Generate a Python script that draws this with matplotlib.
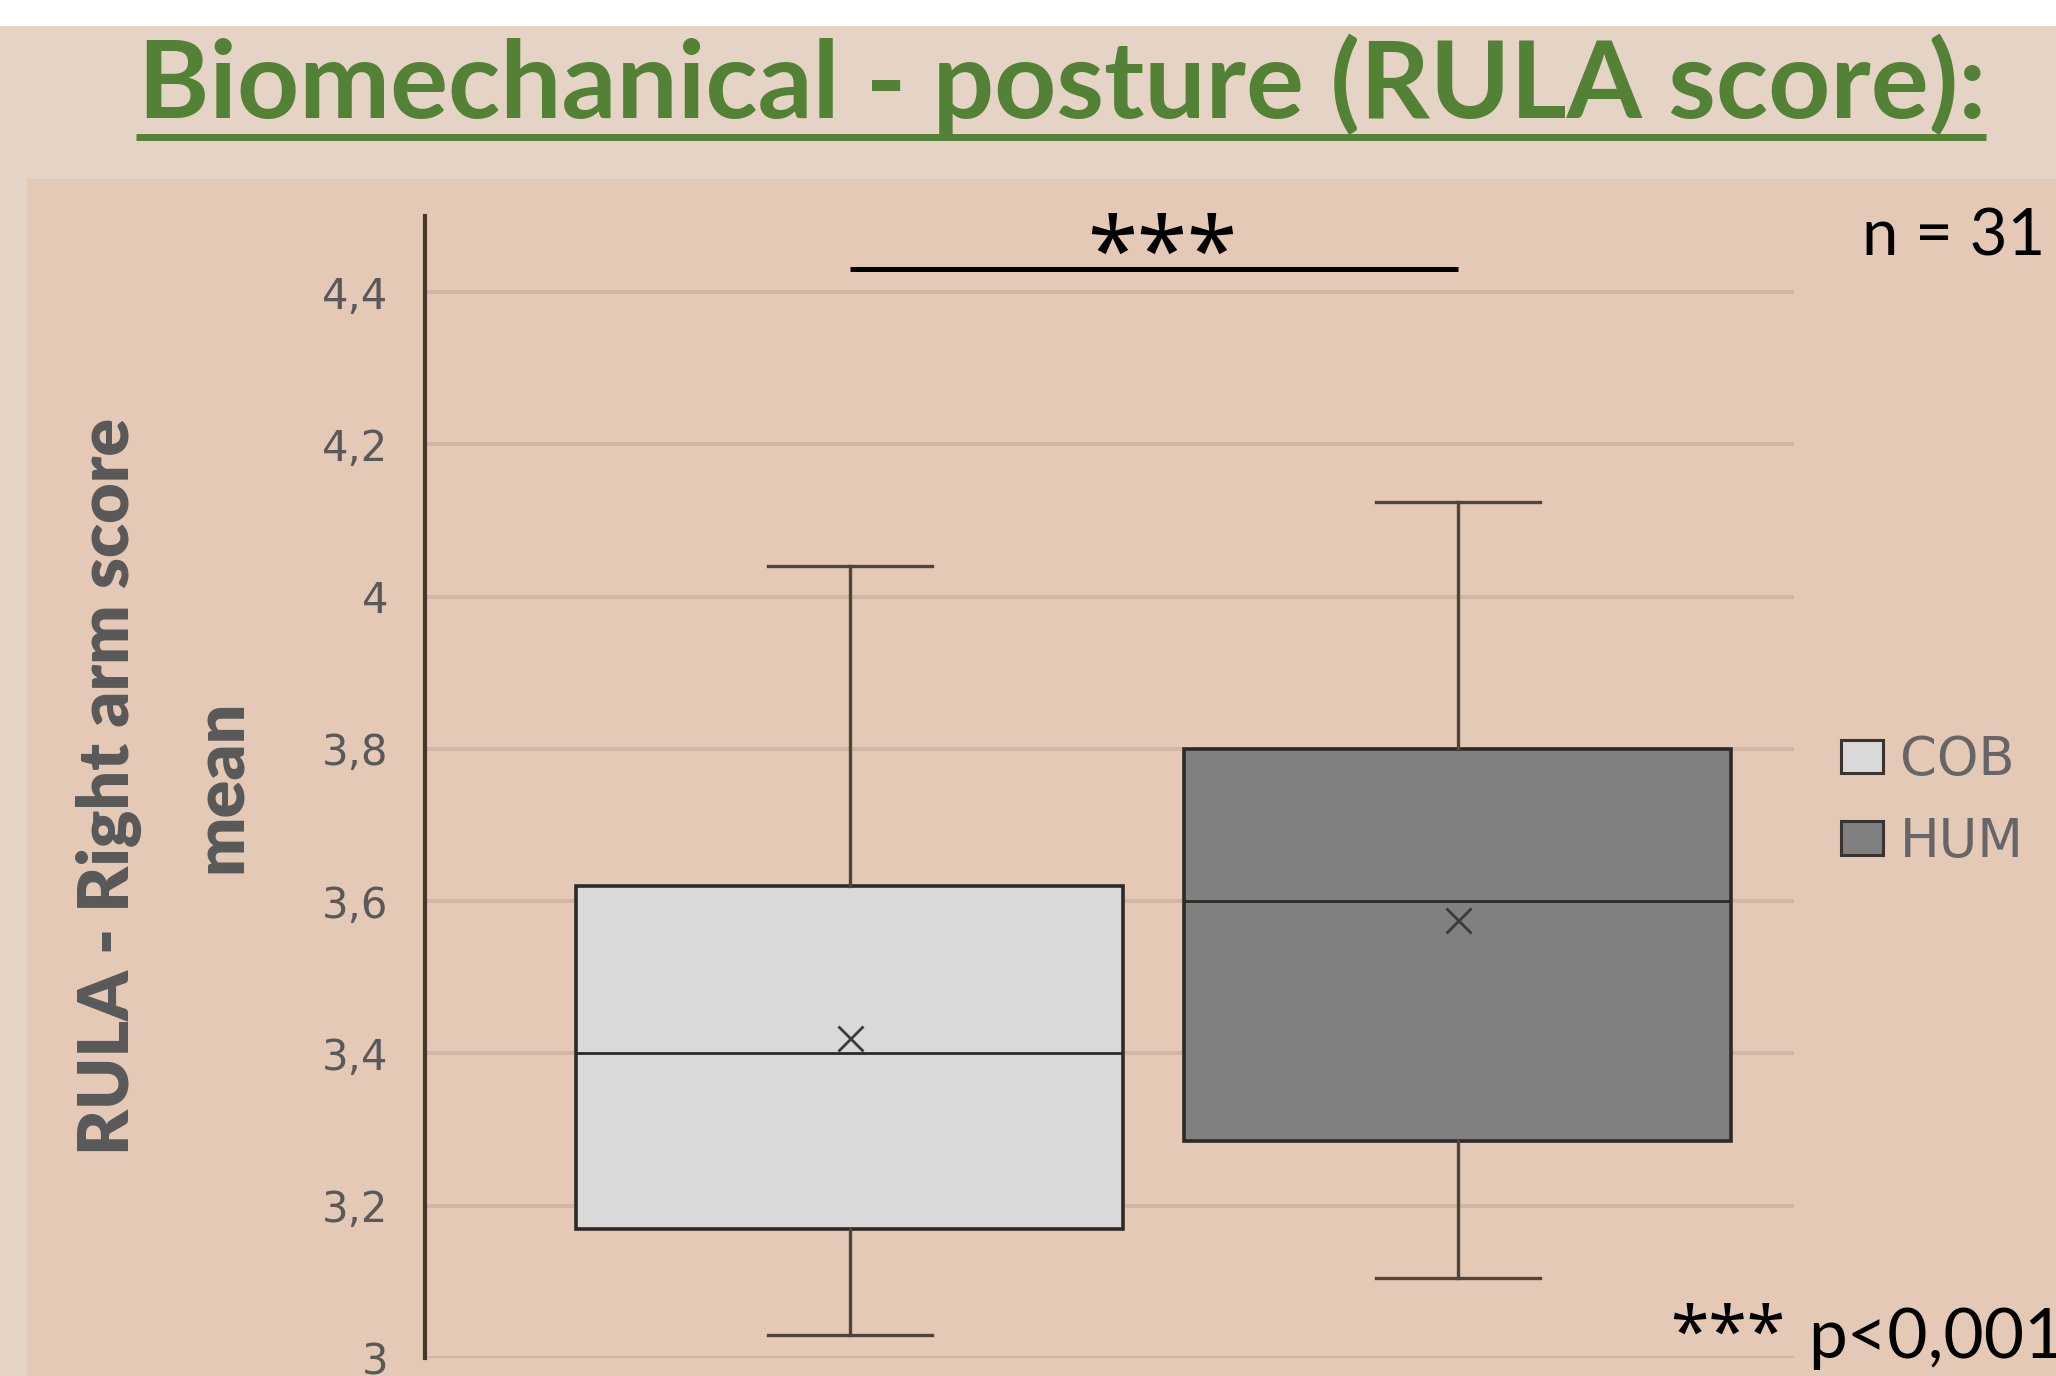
import matplotlib
matplotlib.use('Agg')
import matplotlib.pyplot as plt
from matplotlib.patches import Patch, Rectangle
from matplotlib.lines import Line2D

W, H = 2056, 1376
DPI = 100

# ---- data ----
categories = ['COB', 'HUM']
q1 = [3.17, 3.285]
medians = [3.40, 3.60]
q3 = [3.62, 3.80]
whisker_low = [3.03, 3.105]
whisker_high = [4.04, 4.125]
means = [3.42, 3.575]
box_colors = ['#D9D9D9', '#808080']

y_ticks = [3.0, 3.2, 3.4, 3.6, 3.8, 4.0, 4.2, 4.4]
y_tick_labels = ['3', '3,2', '3,4', '3,6', '3,8', '4', '4,2', '4,4']

title = 'Biomechanical - posture (RULA score):'
y_label = 'RULA - Right arm score\nmean'
n_text = 'n = 31'
sig_text = '***'
p_stars = '***'
p_text = 'p<0,001'
sig_y = 4.43

GREEN = '#538135'
GRAY_TXT = '#595959'

fig = plt.figure(figsize=(W / DPI, H / DPI), dpi=DPI)
fig.patch.set_facecolor('white')


def fx(px):
    return px / W


def fy(py):
    return 1 - py / H


# background panels
fig.add_artist(Rectangle((0, 0), 1, fy(26), transform=fig.transFigure,
                         facecolor='#E5D4C6', edgecolor='none', zorder=-10))
fig.add_artist(Rectangle((fx(27), 0), 1 - fx(27), fy(179), transform=fig.transFigure,
                         facecolor='#E5C9B7', edgecolor='none', zorder=-9))

# ---- axes ----
ax = fig.add_axes([fx(425), fy(1358), fx(1794) - fx(425), fy(216) - fy(1358)])
ax.set_facecolor('none')

stats = []
for c, a, m, b, lo, hi, mu in zip(categories, q1, medians, q3, whisker_low, whisker_high, means):
    stats.append(dict(label=c, q1=a, med=m, q3=b, whislo=lo, whishi=hi, mean=mu))

bp = ax.bxp(stats, positions=[1, 2], widths=0.9, capwidths=0.27, showmeans=True,
            patch_artist=True, showfliers=False,
            boxprops=dict(edgecolor='#2e2927', linewidth=2.6),
            medianprops=dict(color='#2e2927', linewidth=2.0),
            whiskerprops=dict(color='#52433b', linewidth=2.4),
            capprops=dict(color='#52433b', linewidth=2.4),
            meanprops=dict(marker='x', markersize=18, markeredgecolor='#3a3a3a',
                           markeredgewidth=2.0, markerfacecolor='none'))
for patch, col in zip(bp['boxes'], box_colors):
    patch.set_facecolor(col)

ax.set_xlim(0.301, 2.553)
ax.set_ylim(3.0, 4.5)
ax.set_yticks(y_ticks, y_tick_labels)
ax.set_xticks([])
ax.set_axisbelow(True)
ax.yaxis.grid(True, color='#CFB6A5', linewidth=2.8)
for s in ['top', 'right', 'bottom']:
    ax.spines[s].set_visible(False)
ax.spines['left'].set_color('#45382f')
ax.spines['left'].set_linewidth(3.0)
ax.tick_params(axis='y', length=0, pad=26.6, labelsize=30, labelcolor=GRAY_TXT)
for lbl in ax.get_yticklabels():
    lbl.set_family('DejaVu Sans')

# significance bar
ax.plot([1, 2], [sig_y, sig_y], color='black', linewidth=3.6, solid_capstyle='butt')

# ---- texts ----
t_title = fig.text(fx(138), fy(118), title, fontsize=70, fontweight='bold',
                   family='Lato', color=GREEN, ha='left', va='baseline')
fig.add_artist(Line2D([fx(136), fx(1986)], [fy(136.5), fy(136.5)], transform=fig.transFigure,
                      color=GREEN, linewidth=5.0, solid_capstyle='butt'))

t_ylab = fig.text(fx(165), fy(786), y_label, rotation=90, ha='center', va='center',
                  multialignment='center', fontsize=50, fontweight='heavy',
                  family='Lato', color=GRAY_TXT, linespacing=1.88)

t_sig = fig.text(fx(1162), fy(283), sig_text, ha='center', va='baseline',
                 fontsize=68, family='Noto Sans', fontweight='bold', color='black')
t_n = fig.text(fx(1862), fy(255), n_text, ha='left', va='baseline',
               fontsize=47, family='Lato', color='black')
t_ps = fig.text(fx(1670), fy(1356), p_stars, ha='left', va='baseline',
                fontsize=52, family='Noto Sans', fontweight='bold', color='black')
t_p = fig.text(fx(1808), fy(1358), p_text, ha='left', va='baseline',
               fontsize=50, family='Lato', color='black')

handles = [Patch(facecolor=box_colors[0], edgecolor='#3a3330', linewidth=2.2, label=categories[0]),
           Patch(facecolor=box_colors[1], edgecolor='#3a3330', linewidth=2.2, label=categories[1])]
fig.legend(handles=handles, loc='upper left', bbox_to_anchor=(fx(1841), fy(734)),
           frameon=False, prop={'family': 'DejaVu Sans', 'size': 38},
           handlelength=0.8, handleheight=0.59, handletextpad=0.32,
           labelspacing=0.56, borderpad=0, borderaxespad=0, labelcolor='#666666')


# fit text sizes to measured extents of the reference
def fit(t, target, use_height=False):
    fig.canvas.draw()
    r = fig.canvas.get_renderer()
    bb = t.get_window_extent(r)
    cur = bb.height if use_height else bb.width
    t.set_fontsize(t.get_fontsize() * target / cur)


fit(t_title, 1848)
fit(t_ylab, 737, use_height=True)
fit(t_sig, 150)
fit(t_ps, 115)

fig.savefig('out.png', dpi=DPI, facecolor=fig.get_facecolor())
